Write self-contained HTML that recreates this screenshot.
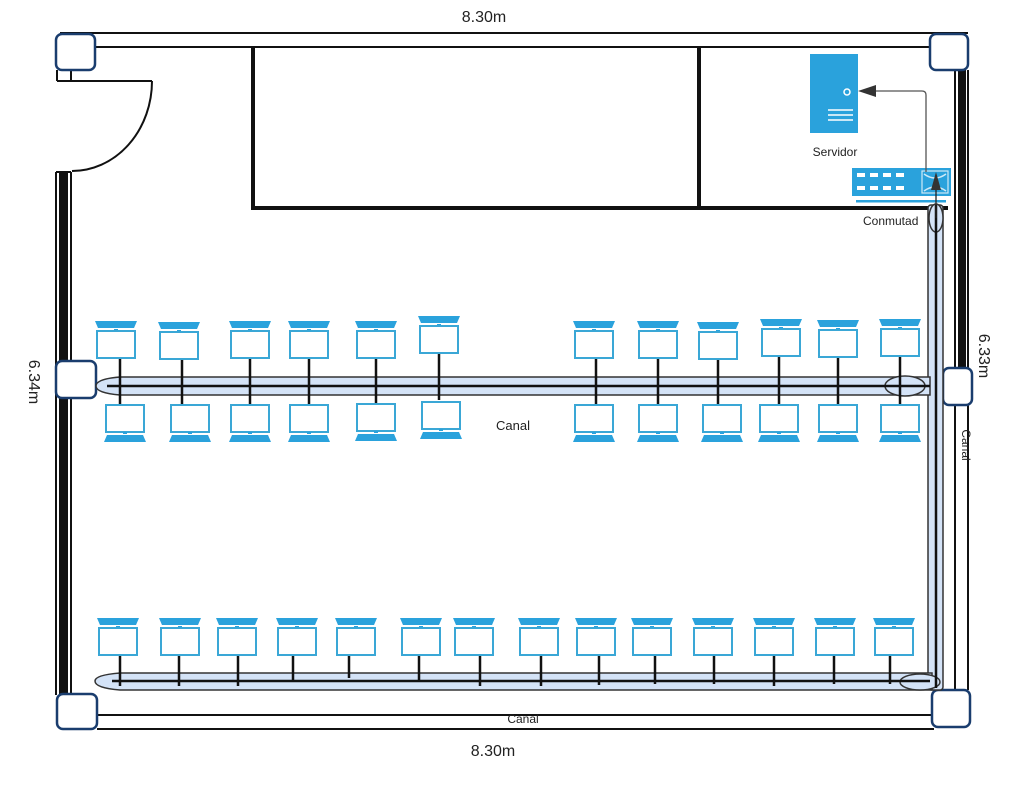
<!DOCTYPE html>
<html><head><meta charset="utf-8"><style>html,body{margin:0;padding:0;background:#fff}svg{display:block}text{font-family:"Liberation Sans",sans-serif;fill:#222}</style></head><body>
<svg width="1026" height="787" viewBox="0 0 1026 787" xmlns="http://www.w3.org/2000/svg">
<defs>
<g id="lt">
<path d="M-21,0 H21 L18,7 H-18 Z" fill="#2aa2dc"/>
<rect x="-2" y="8" width="4" height="2" fill="#2aa2dc"/>
<rect x="-19" y="10" width="38" height="27" fill="#fff" stroke="#3aa7d6" stroke-width="2"/>
</g>
<g id="lb">
<rect x="-19" y="0" width="38" height="27" fill="#fff" stroke="#3aa7d6" stroke-width="2"/>
<rect x="-2" y="27" width="4" height="2" fill="#2aa2dc"/>
<path d="M-18,30 H18 L21,37 H-21 Z" fill="#2aa2dc"/>
</g>
</defs>
<g fill="none" stroke="#111" stroke-width="2">
<!-- top wall -->
<line x1="60" y1="33" x2="968" y2="33"/>
<line x1="95" y1="47" x2="932" y2="47"/>
<!-- bottom wall -->
<line x1="97" y1="715" x2="932" y2="715"/>
<line x1="97" y1="729" x2="934" y2="729"/>
<!-- door -->
<line x1="57" y1="70" x2="57" y2="81"/>
<line x1="71" y1="70" x2="71" y2="81"/>
<line x1="57" y1="81" x2="152" y2="81"/>
<path d="M152,81 A80,90 0 0 1 72,171"/>
<!-- left wall -->
<line x1="56" y1="172" x2="56" y2="695"/>
<line x1="71" y1="172" x2="71" y2="695"/>
<line x1="56" y1="172" x2="71" y2="172"/>
<!-- right wall -->
<line x1="955" y1="70" x2="955" y2="690"/>
<line x1="968" y1="70" x2="968" y2="690"/>
</g>
<rect x="59" y="172" width="9" height="523" fill="#111"/>
<rect x="958" y="70" width="8" height="298" fill="#111"/>
<!-- inner room -->
<g stroke="#111" stroke-width="4" fill="none">
<line x1="253" y1="47" x2="253" y2="208"/>
<line x1="699" y1="47" x2="699" y2="208"/>
<line x1="251" y1="208" x2="948" y2="208"/>
</g>
<!-- pillars -->
<g fill="#fff" stroke="#1a3d6e" stroke-width="2.5">
<rect x="56" y="34" width="39" height="36" rx="6"/>
<rect x="930" y="34" width="38" height="36" rx="6"/>
<rect x="56" y="361" width="40" height="37" rx="6"/>
<rect x="943" y="368" width="29" height="37" rx="6"/>
<rect x="57" y="694" width="40" height="35" rx="6"/>
<rect x="932" y="690" width="38" height="37" rx="6"/>
</g>
<!-- channels -->
<g stroke="#333" stroke-width="1.5" fill="#d4e3f7">
<rect x="928" y="205" width="15" height="485" rx="3"/>
<path d="M930,377 H120 Q96,379 96,386 Q96,393 120,395 H930 Z"/>
<path d="M932,673 H120 Q95,675 95,681 Q95,688 120,690 H932 Z"/>
<ellipse cx="936" cy="218" rx="7" ry="14"/>
<ellipse cx="905" cy="386" rx="20" ry="10"/>
<ellipse cx="920" cy="682" rx="20" ry="8"/>
</g>
<g stroke="#111" stroke-width="2.5">
<line x1="107" y1="386" x2="930" y2="386"/>
<line x1="112" y1="681" x2="930" y2="681"/>
<line x1="936" y1="205" x2="936" y2="688"/>
</g>
<!-- connector lines row 1 -->
<g stroke="#111" stroke-width="2.5">
<line x1="120" y1="358" x2="120" y2="404"/><line x1="182" y1="358" x2="182" y2="404"/>
<line x1="250" y1="358" x2="250" y2="404"/><line x1="309" y1="358" x2="309" y2="404"/>
<line x1="376" y1="358" x2="376" y2="404"/><line x1="439" y1="352" x2="439" y2="400"/>
<line x1="596" y1="358" x2="596" y2="404"/><line x1="658" y1="358" x2="658" y2="404"/>
<line x1="718" y1="358" x2="718" y2="404"/><line x1="779" y1="355" x2="779" y2="404"/>
<line x1="838" y1="358" x2="838" y2="404"/><line x1="900" y1="355" x2="900" y2="404"/>
<!-- row 2 -->
<line x1="120" y1="648" x2="120" y2="686"/><line x1="179" y1="654" x2="179" y2="686"/>
<line x1="238" y1="654" x2="238" y2="686"/><line x1="293" y1="652" x2="293" y2="680"/>
<line x1="349" y1="654" x2="349" y2="678"/><line x1="419" y1="654" x2="419" y2="680"/>
<line x1="480" y1="654" x2="480" y2="686"/><line x1="541" y1="654" x2="541" y2="686"/>
<line x1="599" y1="651" x2="599" y2="685"/><line x1="655" y1="654" x2="655" y2="684"/>
<line x1="714" y1="648" x2="714" y2="684"/><line x1="774" y1="654" x2="774" y2="686"/>
<line x1="834" y1="654" x2="834" y2="684"/><line x1="890" y1="648" x2="890" y2="684"/>
</g>
<!-- laptops row1 top -->
<use href="#lt" x="116" y="321"/><use href="#lt" x="179" y="322"/><use href="#lt" x="250" y="321"/>
<use href="#lt" x="309" y="321"/><use href="#lt" x="376" y="321"/><use href="#lt" x="439" y="316"/>
<use href="#lt" x="594" y="321"/><use href="#lt" x="658" y="321"/><use href="#lt" x="718" y="322"/>
<use href="#lt" x="781" y="319"/><use href="#lt" x="838" y="320"/><use href="#lt" x="900" y="319"/>
<!-- row1 bottom -->
<use href="#lb" x="125" y="405"/><use href="#lb" x="190" y="405"/><use href="#lb" x="250" y="405"/>
<use href="#lb" x="309" y="405"/><use href="#lb" x="376" y="404"/><use href="#lb" x="441" y="402"/>
<use href="#lb" x="594" y="405"/><use href="#lb" x="658" y="405"/><use href="#lb" x="722" y="405"/>
<use href="#lb" x="779" y="405"/><use href="#lb" x="838" y="405"/><use href="#lb" x="900" y="405"/>
<!-- row2 -->
<use href="#lt" x="118" y="618"/><use href="#lt" x="180" y="618"/><use href="#lt" x="237" y="618"/>
<use href="#lt" x="297" y="618"/><use href="#lt" x="356" y="618"/><use href="#lt" x="421" y="618"/>
<use href="#lt" x="474" y="618"/><use href="#lt" x="539" y="618"/><use href="#lt" x="596" y="618"/>
<use href="#lt" x="652" y="618"/><use href="#lt" x="713" y="618"/><use href="#lt" x="774" y="618"/>
<use href="#lt" x="835" y="618"/><use href="#lt" x="894" y="618"/>
<!-- server -->
<rect x="810" y="54" width="48" height="79" fill="#2aa2dc"/>
<circle cx="847" cy="92" r="3" fill="none" stroke="#fff" stroke-width="1.5"/>
<g stroke="#fff" stroke-width="1.5"><line x1="828" y1="110" x2="853" y2="110"/><line x1="828" y1="115" x2="853" y2="115"/><line x1="828" y1="120" x2="853" y2="120"/></g>
<text x="835" y="156" font-size="12" text-anchor="middle">Servidor</text>
<!-- switch -->
<rect x="852" y="168" width="99" height="28" fill="#2aa2dc"/>
<rect x="856" y="200" width="90" height="2.5" fill="#2aa2dc"/>
<rect x="922" y="171" width="26" height="22" fill="none" stroke="#cfeaf7" stroke-width="1.2"/>
<g fill="#fff"><rect x="857" y="173" width="8" height="4"/><rect x="870" y="173" width="8" height="4"/><rect x="883" y="173" width="8" height="4"/><rect x="896" y="173" width="8" height="4"/>
<rect x="857" y="186" width="8" height="4"/><rect x="870" y="186" width="8" height="4"/><rect x="883" y="186" width="8" height="4"/><rect x="896" y="186" width="8" height="4"/></g>
<path d="M924,174 Q935,182 946,174 M924,191 Q935,183 946,191" stroke="#cfeaf7" fill="none" stroke-width="1.5"/>
<path d="M926,172 V95 Q926,91 922,91 H874" stroke="#555" stroke-width="1.3" fill="none"/>
<path d="M858,91 L876,85 L876,97 Z" fill="#333"/>
<path d="M936,218 V190" stroke="#222" stroke-width="1.3"/>
<path d="M936,172 L931,190 L941,190 Z" fill="#333"/>
<text x="863" y="225" font-size="12">Conmutad</text>
<!-- labels -->
<text x="484" y="22" font-size="16" text-anchor="middle">8.30m</text>
<text x="493" y="756" font-size="16" text-anchor="middle">8.30m</text>
<text x="513" y="430" font-size="13" text-anchor="middle">Canal</text>
<text x="523" y="723" font-size="12" text-anchor="middle">Canal</text>
<text transform="translate(29,382) rotate(90)" font-size="16" text-anchor="middle">6.34m</text>
<text transform="translate(979,356) rotate(90)" font-size="16" text-anchor="middle">6.33m</text>
<text transform="translate(962,445) rotate(90)" font-size="12" text-anchor="middle">Canal</text>
</svg>
</body></html>
